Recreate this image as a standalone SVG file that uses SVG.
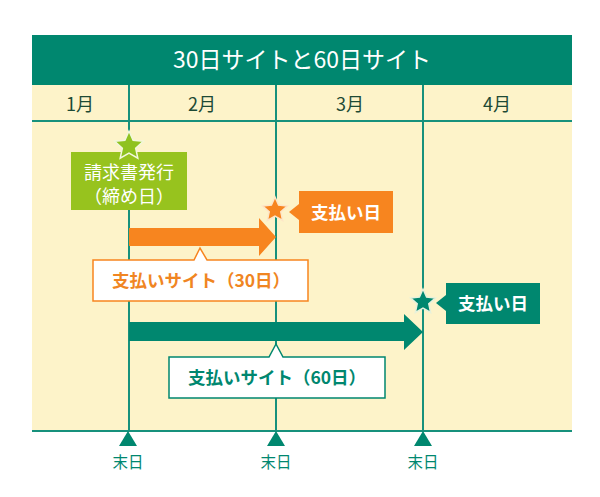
<svg xmlns="http://www.w3.org/2000/svg" width="600" height="497" viewBox="0 0 600 497">
  <style>
    text { font-family: "Noto Sans CJK JP", "Noto Sans", sans-serif; text-anchor: middle; }
    .month { font-size: 18px; fill: #1d4a35; }
    .end { font-size: 15.5px; fill: #00876f; }
    .grid { stroke: #17917c; stroke-width: 2; fill: none; }
    .teal { fill: #00876f; }
    .orange { fill: #f7851f; }
    .white { fill: #ffffff; }
    .lbl { font-size: 17.5px; font-weight: bold; }
    .star { stroke-width: 1.5; stroke-linejoin: miter; }
  </style>
  <defs>
    <path id="star13" d="M0,-13 L3.59,-4.93 L12.36,-4.02 L5.80,1.88 L7.64,10.52 L0,6.1 L-7.64,10.52 L-5.80,1.88 L-12.36,-4.02 L-3.59,-4.93 Z"/>
    <path id="star15" d="M0,-15 L4.11,-5.66 L14.27,-4.64 L6.66,2.16 L8.82,12.14 L0,7 L-8.82,12.14 L-6.66,2.16 L-14.27,-4.64 L-4.11,-5.66 Z"/>
  </defs>

  <g id="background">
    <rect x="32" y="35" width="540" height="50" class="teal"/>
    <rect x="32" y="85" width="540" height="346" fill="#fdf3c9"/>
    <line x1="32" y1="121" x2="572" y2="121" class="grid"/>
    <line x1="32" y1="431" x2="572" y2="431" class="grid"/>
    <text x="302" y="68" font-size="23" class="white">30日サイトと60日サイト</text>
    <text x="80" y="111" class="month">1月</text>
    <text x="202" y="111" class="month">2月</text>
    <text x="350" y="111" class="month">3月</text>
    <text x="497" y="111" class="month">4月</text>
  </g>

  <g id="connectors">
    <line x1="129" y1="85" x2="129" y2="432" class="grid"/>
    <line x1="276" y1="85" x2="276" y2="432" class="grid"/>
    <line x1="423" y1="85" x2="423" y2="432" class="grid"/>
    <path class="orange" d="M129,228 H259 V218 L276,237 L259,256 V246 H129 Z"/>
    <path class="teal" d="M129,322 H404 V314 L423,332 L404,350 V341 H129 Z"/>
  </g>

  <g id="end1">
    <path class="teal" d="M128,431 L137,446 H119 Z"/>
    <text x="128" y="468" class="end">末日</text>
  </g>
  <g id="end2">
    <path class="teal" d="M276,431 L285,446 H267 Z"/>
    <text x="276" y="468" class="end">末日</text>
  </g>
  <g id="end3">
    <path class="teal" d="M423,431 L432,446 H414 Z"/>
    <text x="423" y="468" class="end">末日</text>
  </g>

  <g id="invoice">
    <rect x="71" y="152" width="116" height="58" fill="#97c31e"/>
    <use href="#star15" class="star" x="129" y="146" fill="#8fc21f" stroke="#f3f7dc"/>
    <text x="129" y="179" font-size="18" class="white">請求書発行</text>
    <text x="129" y="203" font-size="18" class="white">（締め日）</text>
  </g>

  <g id="pay30">
    <use href="#star13" class="star" x="275" y="210" fill="#f7851f" stroke="#fde6c8"/>
    <path class="orange" d="M299,191 H393 V233 H299 V220 L289,212 L299,204 Z"/>
    <text x="346" y="219" class="lbl white">支払い日</text>
  </g>

  <g id="site30">
    <path d="M93,260 H194 L200,248 L207,260 H308 V301 H93 Z" fill="#ffffff" stroke="#f7851f" stroke-width="1.5"/>
    <text x="201" y="287" class="lbl" fill="#f08522">支払いサイト（30日）</text>
  </g>

  <g id="pay60">
    <use href="#star13" class="star" x="423" y="302" fill="#00876f" stroke="#e6f1dc"/>
    <path class="teal" d="M446,283 H540 V324 H446 V311 L436,303 L446,295 Z"/>
    <text x="493" y="310" class="lbl white">支払い日</text>
  </g>

  <g id="site60">
    <path d="M169,357 H269 L276,344 L283,357 H385 V398 H169 Z" fill="#ffffff" stroke="#00876f" stroke-width="1.5"/>
    <text x="277" y="384" class="lbl" fill="#00876f">支払いサイト（60日）</text>
  </g>
</svg>
